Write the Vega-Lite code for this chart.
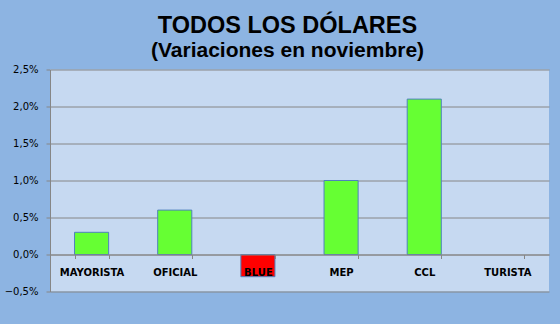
{
  "$schema": "https://vega.github.io/schema/vega-lite/v6.json",
  "width": 499,
  "height": 222,
  "autosize": "none",
  "padding": {"left": 50, "top": 69.5, "right": 11, "bottom": 32.5},
  "background": "#8DB4E2",
  "title": {
    "text": "TODOS LOS DÓLARES",
    "subtitle": "(Variaciones  en noviembre)",
    "anchor": "middle",
    "frame": "group",
    "dx": -12,
    "offset": 4,
    "font": "Liberation Sans",
    "fontSize": 23.5,
    "fontWeight": "bold",
    "color": "#000000",
    "subtitleFont": "Liberation Sans",
    "subtitleFontSize": 21,
    "subtitleFontWeight": "bold",
    "subtitleColor": "#000000",
    "subtitlePadding": 2
  },
  "data": {
    "values": [
      {"tipo": "MAYORISTA", "variacion": 0.003},
      {"tipo": "OFICIAL", "variacion": 0.006},
      {"tipo": "BLUE", "variacion": -0.003},
      {"tipo": "MEP", "variacion": 0.010},
      {"tipo": "CCL", "variacion": 0.021},
      {"tipo": "TURISTA", "variacion": 0.0}
    ]
  },
  "mark": {"type": "bar", "stroke": "#4F81BD", "strokeWidth": 1},
  "encoding": {
    "x": {
      "field": "tipo",
      "type": "nominal",
      "sort": null,
      "scale": {"paddingInner": 0.59, "paddingOuter": 0.295},
      "axis": {
        "title": null,
        "orient": "bottom",
        "offset": -37,
        "zindex": 1,
        "labelAngle": 0,
        "tickBand": "extent",
        "tickSize": 4,
        "tickColor": "#868686",
        "domainColor": "#868686",
        "labelFont": "DejaVu Sans",
        "labelFontSize": 10,
        "labelFontWeight": "bold",
        "labelColor": "#000000",
        "labelPadding": 9,
        "grid": false
      }
    },
    "y": {
      "field": "variacion",
      "type": "quantitative",
      "scale": {"domain": [-0.005, 0.025], "nice": false, "zero": false},
      "axis": {
        "title": null,
        "values": [-0.005, 0, 0.005, 0.01, 0.015, 0.02, 0.025],
        "labelExpr": "replace(format(datum.value, '.1%'), '.', ',')",
        "grid": true,
        "gridColor": "#868686",
        "gridWidth": 1,
        "domainColor": "#868686",
        "tickColor": "#868686",
        "tickSize": 4,
        "labelPadding": 8,
        "labelFont": "DejaVu Sans",
        "labelFontSize": 10,
        "labelColor": "#000000"
      }
    },
    "color": {
      "condition": {"test": "datum.variacion < 0", "value": "#FF0000"},
      "value": "#66FF33"
    },
    "strokeOpacity": {
      "condition": {"test": "datum.variacion == 0", "value": 0},
      "value": 1
    }
  },
  "config": {
    "view": {"stroke": null, "fill": "#C6D9F1"}
  }
}
